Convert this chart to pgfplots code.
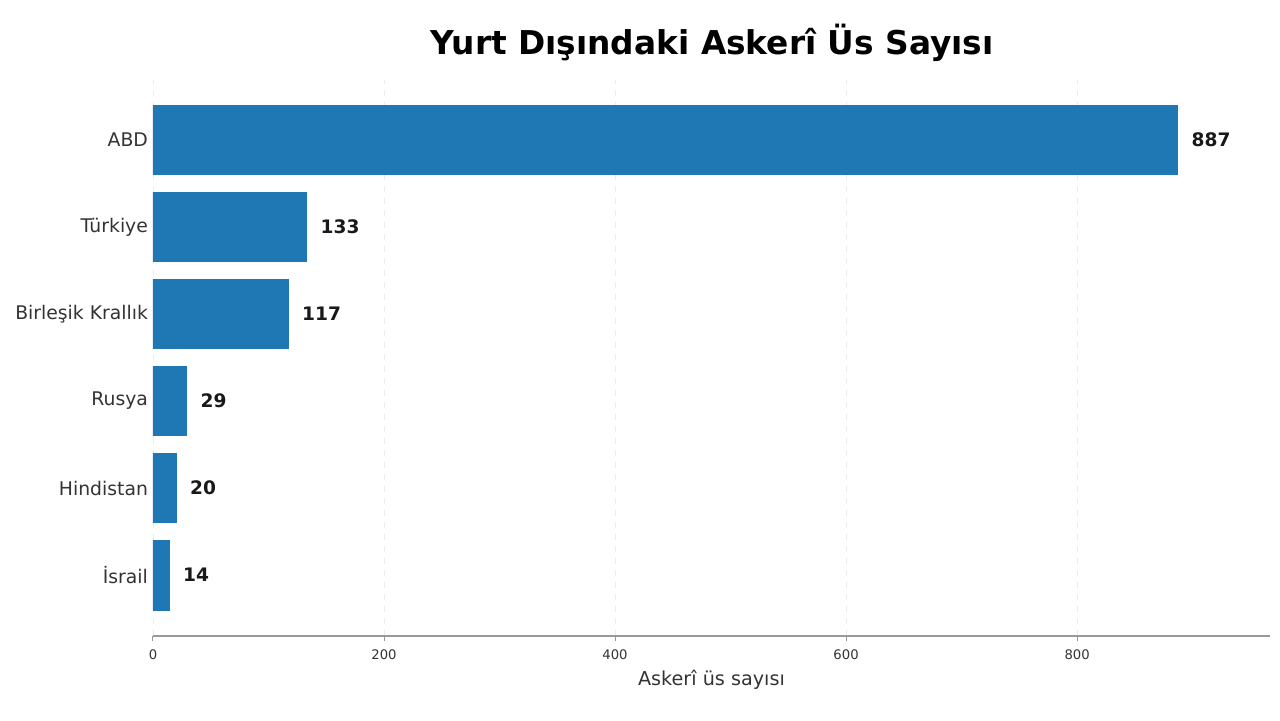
\documentclass[border=0pt]{standalone}
\usepackage{pgfplots}
\pgfplotsset{compat=1.18}
\usepackage{fontspec}
\setmainfont{DejaVu Sans}
\definecolor{barblue}{HTML}{1F77B4}
\definecolor{txt}{HTML}{333333}
\begin{document}
\begin{tikzpicture}
\path[use as bounding box] (0,0) rectangle (640pt,360pt);
\node[font=\bfseries\fontsize{16.4pt}{18pt}\selectfont, text=black] at (356pt,338.5pt) {Yurt Dışındaki Askerî Üs Sayısı};
\begin{axis}[
    at={(76.5pt,42pt)}, anchor=south west,
    scale only axis,
    width=558.5pt, height=278pt,
    xbar, bar width=0.8,
    xmin=0, xmax=967,
    ymin=-0.70, ymax=5.69,
    xtick={0,200,400,600,800},
    ytick={0,1,2,3,4,5},
    yticklabels={İsrail, Hindistan, Rusya, Birleşik Krallık, Türkiye, ABD},
    axis x line*=bottom, axis y line*=left,
    y axis line style={draw=none},
    x axis line style={draw=gray!80, line width=0.6pt},
    ytick style={draw=none},
    xtick style={draw=gray!80, line width=0.5pt},
    tick align=outside, major tick length=2.5pt,
    xmajorgrids, grid style={dashed, gray!15, line width=0.4pt},
    /pgf/number format/assume math mode=true,
    x tick label style={font=\fontsize{6.6pt}{7pt}\selectfont, text=txt, yshift=-1pt},
    y tick label style={font=\fontsize{9.4pt}{11pt}\selectfont, text=txt, xshift=3.5pt},
    xlabel={Askerî üs sayısı},
    xlabel style={font=\fontsize{9.6pt}{11pt}\selectfont, text=txt, yshift=2pt},
    nodes near coords,
    nodes near coords style={anchor=west, xshift=3.5pt, font=\bfseries\fontsize{9.3pt}{11pt}\selectfont, text=black!90},
]
\addplot[fill=barblue, draw=barblue] coordinates {
    (14,0) (20,1) (29,2) (117,3) (133,4) (887,5)
};
\end{axis}
\end{tikzpicture}
\end{document}
